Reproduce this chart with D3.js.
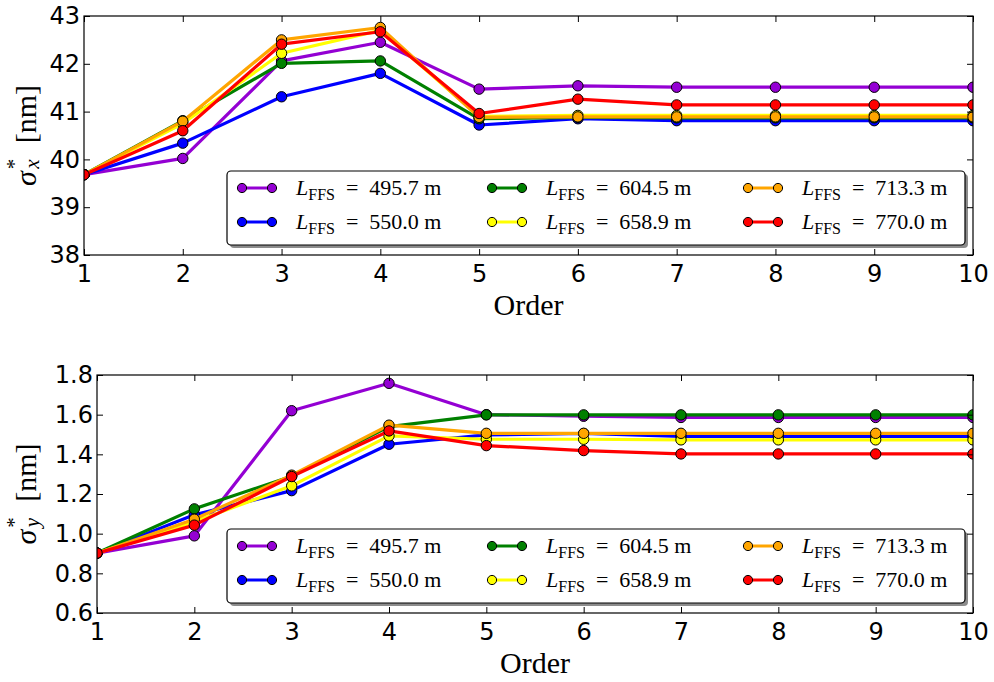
<!DOCTYPE html>
<html><head><meta charset="utf-8">
<script src="https://cdn.jsdelivr.net/npm/d3@7"></script>
<style>
body{margin:0;background:#fff;}
svg{display:block;}
</style></head>
<body>
<svg id="c" width="994" height="682"></svg>
<script>
const orders = [1,2,3,4,5,6,7,8,9,10];
const seriesNames = ["495.7","550.0","604.5","658.9","713.3","770.0"];
const seriesColors = ["#9400D3","#0000FF","#008000","#FFFF00","#FFA500","#FF0000"];

// sigma_x* [nm]
const sx495 = [39.68, 40.02, 42.06, 42.45, 41.47, 41.54, 41.51, 41.51, 41.51, 41.51];
const sx550 = [39.68, 40.34, 41.31, 41.80, 40.72, 40.85, 40.81, 40.81, 40.81, 40.81];
const sx604 = [39.68, 40.81, 42.01, 42.06, 40.85, 40.88, 40.87, 40.87, 40.87, 40.87];
const sx658 = [39.68, 40.75, 42.22, 42.70, 40.90, 40.92, 40.92, 40.92, 40.92, 40.92];
const sx713 = [39.68, 40.80, 42.50, 42.76, 40.88, 40.89, 40.89, 40.89, 40.89, 40.89];
const sx770 = [39.68, 40.60, 42.41, 42.67, 40.96, 41.26, 41.14, 41.14, 41.14, 41.14];

// sigma_y* [nm]
const sy495 = [0.902, 0.989, 1.620, 1.758, 1.600, 1.592, 1.586, 1.586, 1.586, 1.586];
const sy550 = [0.902, 1.095, 1.217, 1.451, 1.498, 1.505, 1.490, 1.490, 1.490, 1.490];
const sy604 = [0.902, 1.125, 1.290, 1.540, 1.599, 1.599, 1.599, 1.599, 1.599, 1.599];
const sy658 = [0.902, 1.060, 1.241, 1.493, 1.476, 1.476, 1.473, 1.473, 1.473, 1.473];
const sy713 = [0.902, 1.073, 1.295, 1.547, 1.506, 1.506, 1.506, 1.506, 1.506, 1.506];
const sy770 = [0.902, 1.043, 1.288, 1.518, 1.444, 1.419, 1.402, 1.402, 1.402, 1.402];

const topTicks = [38,39,40,41,42,43];
const botTicks = [0.6,0.8,1.0,1.2,1.4,1.6,1.8];

const svg = d3.select("#c");

function panel(cfg){
  const {left,right,top,bottom,ydomain,yticks,yfmt,data,id,legTop,ysub} = cfg;
  const x = d3.scaleLinear().domain([1,10]).range([left,right]);
  const y = d3.scaleLinear().domain(ydomain).range([bottom,top]);
  const g = svg.append("g");
  g.append("clipPath").attr("id",id).append("rect")
    .attr("x",left).attr("y",top).attr("width",right-left).attr("height",bottom-top);

  const line = d3.line().x((d,i)=>x(orders[i])).y(d=>y(d));
  const plot = g.append("g").attr("clip-path",`url(#${id})`);
  data.forEach((s,k)=>{
    plot.append("path").attr("d",line(s)).attr("fill","none")
      .attr("stroke",seriesColors[k]).attr("stroke-width",3.2).attr("stroke-linejoin","round");
    plot.selectAll(null).data(s).enter().append("circle")
      .attr("cx",(d,i)=>x(orders[i])).attr("cy",d=>y(d)).attr("r",5.2)
      .attr("fill",seriesColors[k]).attr("stroke","#000").attr("stroke-width",1);
  });

  // axes with inward ticks
  const tl = 6;
  const axB = d3.axisBottom(x).tickValues(orders).tickSizeInner(-tl).tickSizeOuter(0).tickPadding(10).tickFormat(d3.format("d"));
  const axT = d3.axisTop(x).tickValues(orders).tickSizeInner(-tl).tickSizeOuter(0).tickFormat("");
  const axL = d3.axisLeft(y).tickValues(yticks).tickSizeInner(-tl).tickSizeOuter(0).tickPadding(4).tickFormat(yfmt);
  const axR = d3.axisRight(y).tickValues(yticks).tickSizeInner(-tl).tickSizeOuter(0).tickFormat("");
  const styleAx = a => {
    a.select(".domain").remove();
    a.selectAll("line").attr("stroke","#000").attr("stroke-width",1);
    a.selectAll("text").attr("fill","#000").style("font-family","'DejaVu Sans',sans-serif").style("font-size","24px");
  };
  g.append("g").attr("transform",`translate(0,${bottom})`).call(axB).call(styleAx);
  g.append("g").attr("transform",`translate(0,${top})`).call(axT).call(styleAx);
  g.append("g").attr("transform",`translate(${left},0)`).call(axL).call(styleAx);
  g.append("g").attr("transform",`translate(${right},0)`).call(axR).call(styleAx);
  g.append("rect").attr("x",left).attr("y",top).attr("width",right-left).attr("height",bottom-top)
    .attr("fill","none").attr("stroke","#000").attr("stroke-width",1.2);

  // x label
  g.append("text").attr("x",(left+right)/2).attr("y",bottom+60).attr("text-anchor","middle")
    .style("font-family","'Liberation Serif',serif").style("font-size","30px").text("Order");

  // y label
  const yl = g.append("text").attr("transform",`translate(${cfg.ylabX},${(top+bottom)/2}) rotate(-90)`)
    .attr("text-anchor","middle").style("font-family","'Liberation Serif',serif").style("font-size","30px");
  yl.append("tspan").style("font-style","italic").text("σ");
  yl.append("tspan").attr("dx",2).attr("dy",-15).style("font-size","21px").text("*");
  yl.append("tspan").attr("dx",-10).attr("dy",18).style("font-size","21px").style("font-style","italic").text(ysub);
  yl.append("tspan").attr("dx",16).attr("dy",-3).text("[nm]");

  // legend
  const lx0 = 227, lx1 = 965, lh = 74;
  const lg = g.append("g");
  lg.append("rect").attr("x",lx0+3).attr("y",legTop+3).attr("width",lx1-lx0).attr("height",lh)
    .attr("rx",4).attr("fill","#000").attr("opacity",0.45);
  lg.append("rect").attr("x",lx0).attr("y",legTop).attr("width",lx1-lx0).attr("height",lh)
    .attr("rx",4).attr("fill","#fff").attr("stroke","#000").attr("stroke-width",1.2);
  const colX = [242, 492, 748];
  seriesNames.forEach((nm,k)=>{
    const cx = colX[Math.floor(k/2)];
    const cy = legTop + 17 + (k%2)*34;
    lg.append("line").attr("x1",cx).attr("x2",cx+30).attr("y1",cy).attr("y2",cy)
      .attr("stroke",seriesColors[k]).attr("stroke-width",3);
    [cx,cx+30].forEach(px=>lg.append("circle").attr("cx",px).attr("cy",cy).attr("r",4.6)
      .attr("fill",seriesColors[k]).attr("stroke","#000").attr("stroke-width",1));
    const t = lg.append("text").attr("x",cx+54).attr("y",cy+7)
      .style("font-family","'Liberation Serif',serif").style("font-size","22px");
    t.append("tspan").style("font-style","italic").text("L");
    t.append("tspan").attr("dy",5).style("font-size","16px").text("FFS");
    t.append("tspan").attr("dy",-5).text("\u00a0\u00a0=\u00a0\u00a0" + nm + "\u00a0m");
  });
}

panel({id:"cp1",left:84,right:973,top:16,bottom:255,ydomain:[38,43],yticks:topTicks,
  yfmt:d3.format("d"),data:[sx495,sx550,sx604,sx658,sx713,sx770],legTop:171,ysub:"x",ylabX:36});
panel({id:"cp2",left:97,right:973,top:375,bottom:613,ydomain:[0.6,1.8],yticks:botTicks,
  yfmt:d3.format(".1f"),data:[sy495,sy550,sy604,sy658,sy713,sy770],legTop:529,ysub:"y",ylabX:36});
</script>
</body></html>
